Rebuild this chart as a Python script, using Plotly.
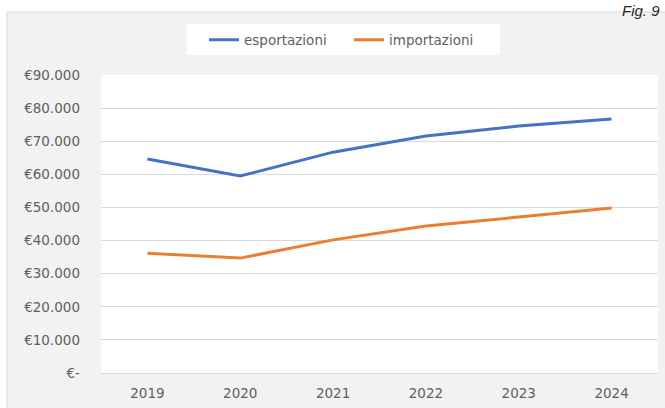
import plotly.graph_objects as go

years = ["2019", "2020", "2021", "2022", "2023", "2024"]
esportazioni = [64600, 59500, 66700, 71600, 74600, 76700]
importazioni = [36200, 34700, 40200, 44400, 47100, 49800]
y_tickvals = [0, 10000, 20000, 30000, 40000, 50000, 60000, 70000, 80000, 90000]
y_ticktext = ["€-", "€10.000", "€20.000", "€30.000", "€40.000", "€50.000",
              "€60.000", "€70.000", "€80.000", "€90.000"]

W, H = 665, 408
L, R, T, B = 101, 7, 75, 35
pw, ph = W - L - R, H - T - B

def px(x):
    return (x - L) / pw

def py(y):
    return (H - B - y) / ph

font = "DejaVu Sans, sans-serif"
fs = 13.5
txt = "#5f5f5f"

fig = go.Figure()
fig.add_trace(go.Scatter(x=years, y=esportazioni, mode="lines", name="esportazioni",
                         line=dict(color="#4472C4", width=3)))
fig.add_trace(go.Scatter(x=years, y=importazioni, mode="lines", name="importazioni",
                         line=dict(color="#ED7D31", width=3)))

fig.update_layout(
    width=W, height=H,
    margin=dict(l=L, r=R, t=T, b=B),
    paper_bgcolor="white",
    plot_bgcolor="white",
    font=dict(family=font, size=fs, color=txt),
    showlegend=True,
    legend=dict(orientation="h", x=px(349), xanchor="center", y=py(40), yanchor="middle",
                bgcolor="rgba(0,0,0,0)", font=dict(size=fs, color=txt),
                entrywidth=100, entrywidthmode="pixels", tracegroupgap=0),
    shapes=[
        dict(type="rect", xref="paper", yref="paper",
             x0=px(7), x1=px(672), y0=py(415), y1=py(12),
             fillcolor="#F2F2F2", line=dict(color="#D9D9D9", width=1), layer="below"),
        dict(type="rect", xref="paper", yref="paper",
             x0=0, x1=1, y0=0, y1=1,
             fillcolor="white", line=dict(width=0), layer="below"),
        dict(type="rect", xref="paper", yref="paper",
             x0=px(187), x1=px(500), y0=py(55), y1=py(24),
             fillcolor="white", line=dict(width=0), layer="below"),
    ],
    annotations=[dict(text="<i>Fig. 9</i>", xref="paper", yref="paper", x=px(662), y=py(0),
                      xanchor="right", yanchor="top", showarrow=False,
                      font=dict(size=15, color="#262626", family="Liberation Sans, sans-serif"))],
)
fig.update_xaxes(type="category", range=[-0.5, 5.5], showgrid=False, showline=False, ticks="",
                 ticklabelstandoff=10, tickfont=dict(size=fs, color=txt))
fig.update_yaxes(range=[0, 90000], tickvals=y_tickvals, ticktext=y_ticktext,
                 showgrid=True, gridcolor="#D9D9D9", gridwidth=1, zeroline=True,
                 zerolinecolor="#D9D9D9", zerolinewidth=1, ticks="",
                 ticklabelstandoff=20, tickfont=dict(size=fs, color=txt))

fig.write_html("out.html", config={"displayModeBar": False},
               post_script="document.body.style.margin='0';")
